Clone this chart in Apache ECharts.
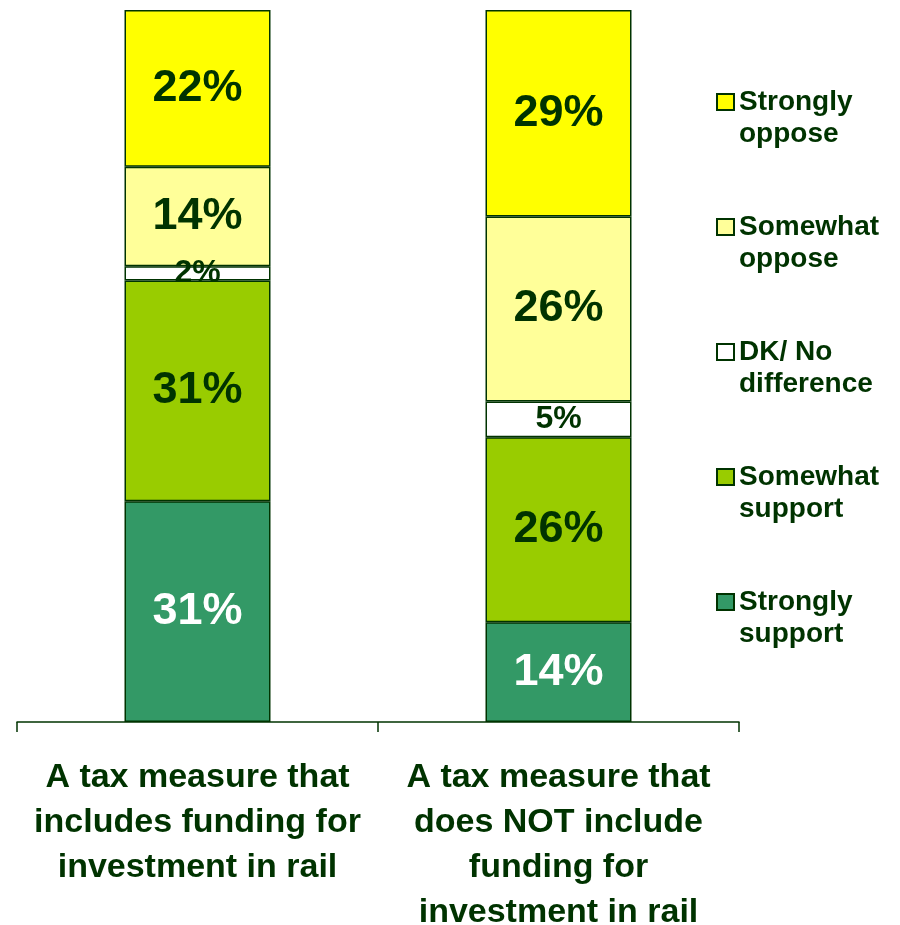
<!DOCTYPE html>
<html>
<head>
<meta charset="utf-8">
<script src="https://cdn.jsdelivr.net/npm/echarts@6/dist/echarts.min.js"></script>
<style>html,body{margin:0;padding:0;background:#fff;}#c{width:900px;height:925px;}</style>
</head>
<body>
<div id="c"></div>
<script>
const categories = ['A tax measure that\nincludes funding for\ninvestment in rail', 'A tax measure that\ndoes NOT include\nfunding for\ninvestment in rail'];
const stronglySupport = [31, 14];
const somewhatSupport = [31, 26];
const dkNoDifference = [2, 5];
const somewhatOppose = [14, 26];
const stronglyOppose = [22, 29];
const seriesNames = ['Strongly support', 'Somewhat support', 'DK/ No difference', 'Somewhat oppose', 'Strongly oppose'];
const legendLabels = {
  'Strongly oppose': 'Strongly\noppose',
  'Somewhat oppose': 'Somewhat\noppose',
  'DK/ No difference': 'DK/ No\ndifference',
  'Somewhat support': 'Somewhat\nsupport',
  'Strongly support': 'Strongly\nsupport'
};

const dark = '#003300';
const font = '"Liberation Sans", Arial, sans-serif';
const colors = ['#339966', '#99CC00', '#FFFFFF', '#FFFF99', '#FFFF00'];
const values = [stronglySupport, somewhatSupport, dkNoDifference, somewhatOppose, stronglyOppose];

const chart = echarts.init(document.getElementById('c'), null, {renderer: 'canvas'});
chart.setOption({
  animation: false,
  backgroundColor: '#fff',
  grid: {left: 17, right: 161, top: 10, bottom: 203, containLabel: false, outerBoundsMode: 'none'},
  legend: {
    orient: 'vertical',
    left: 716,
    top: 54,
    padding: 0,
    itemGap: 29,
    itemWidth: 17,
    itemHeight: 16,
    icon: 'rect',
    data: seriesNames.slice().reverse(),
    formatter: function (n) { return ' \n' + legendLabels[n]; },
    textStyle: {
      fontFamily: font, fontSize: 28, fontWeight: 'bold', color: dark,
      lineHeight: 32
    }
  },
  xAxis: {
    type: 'category',
    data: categories,
    axisLine: {show: true, lineStyle: {color: dark, width: 1.5}},
    axisTick: {show: true, length: 10, alignWithLabel: false, lineStyle: {color: dark, width: 1.5}},
    axisLabel: {
      interval: 0, margin: 33,
      fontFamily: font, fontSize: 34, fontWeight: 'bold', color: dark, lineHeight: 45
    }
  },
  yAxis: {type: 'value', min: 0, max: 100, show: false, splitLine: {show: false}},
  series: seriesNames.map(function (name, i) {
    return {
      name: name,
      type: 'bar',
      stack: 'total',
      barWidth: 146,
      data: values[i],
      itemStyle: {color: colors[i], borderColor: dark, borderWidth: 1.5},
      label: {
        show: true,
        position: 'inside',
        formatter: '{c}%',
        fontFamily: font,
        fontWeight: 'bold',
        fontSize: i === 2 ? 32 : 45,
        color: i === 0 ? '#FFFFFF' : dark
      }
    };
  })
});
</script>
</body>
</html>
